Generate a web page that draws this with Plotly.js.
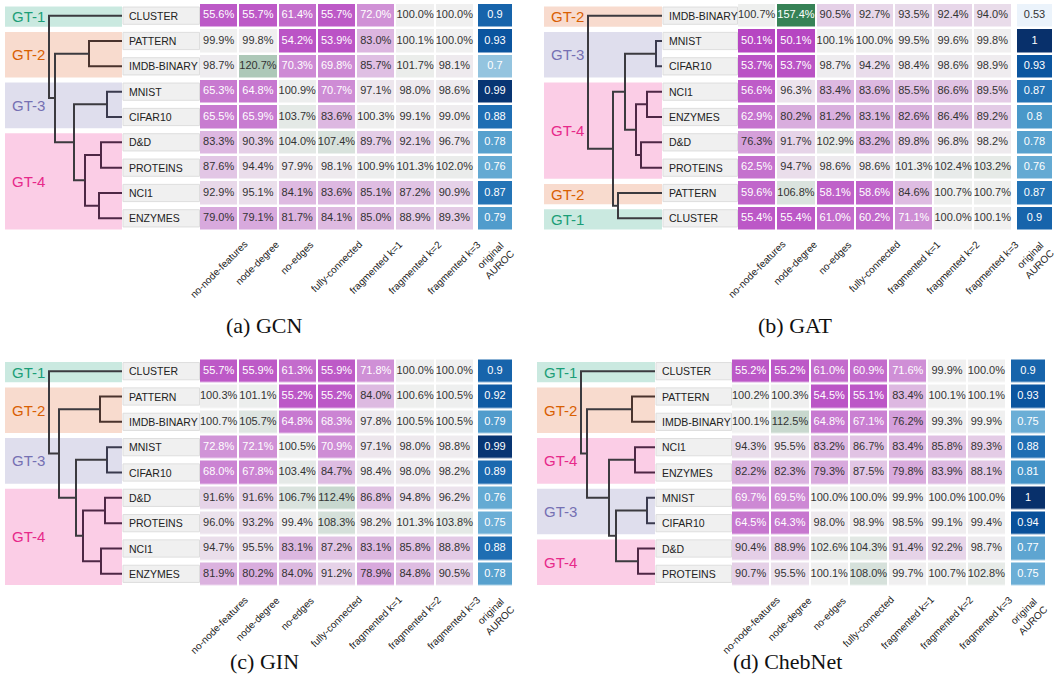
<!DOCTYPE html>
<html><head><meta charset="utf-8">
<script src="https://cdn.plot.ly/plotly-3.0.1.min.js"></script>
<style>html,body{margin:0;padding:0;background:#fff}#chart{width:1060px;height:692px}</style>
</head><body><div id="chart"></div>
<script>
// ---------------- DATA ----------------
const columns = ['no-node-features','node-degree','no-edges','fully-connected','fragmented k=1','fragmented k=2','fragmented k=3'];
const aurocLabel = 'original<br>AUROC';
const captions = ['(a) GCN','(b) GAT','(c) GIN','(d) ChebNet'];

const gcnRows = ['CLUSTER','PATTERN','IMDB-BINARY','MNIST','CIFAR10','D&D','PROTEINS','NCI1','ENZYMES'];
const gcnGroups = ['GT-1','GT-2','GT-2','GT-3','GT-3','GT-4','GT-4','GT-4','GT-4'];
const gcnValues = [
  [55.6,55.7,61.4,55.7,72.0,100.0,100.0],
  [99.9,99.8,54.2,53.9,83.0,100.1,100.0],
  [98.7,120.7,70.3,69.8,85.7,101.7,98.1],
  [65.3,64.8,100.9,70.7,97.1,98.0,98.6],
  [65.5,65.9,103.7,83.6,100.3,99.1,99.0],
  [83.3,90.3,104.0,107.4,89.7,92.1,96.7],
  [87.6,94.4,97.9,98.1,100.9,101.3,102.0],
  [92.9,95.1,84.1,83.6,85.1,87.2,90.9],
  [79.0,79.1,81.7,84.1,85.0,88.9,89.3]
];
const gcnAuroc = [0.9,0.93,0.7,0.99,0.88,0.78,0.76,0.87,0.79];
const gcnLinkage = [[3,4,15],[5,6,21],[7,8,23],[1,2,33],[10,11,37],[9,13,48],[12,14,67],[0,15,73]];

const gatRows = ['IMDB-BINARY','MNIST','CIFAR10','NCI1','ENZYMES','D&D','PROTEINS','PATTERN','CLUSTER'];
const gatGroups = ['GT-2','GT-3','GT-3','GT-4','GT-4','GT-4','GT-4','GT-2','GT-1'];
const gatValues = [
  [100.7,157.4,90.5,92.7,93.5,92.4,94.0],
  [50.1,50.1,100.1,100.0,99.5,99.6,99.8],
  [53.7,53.7,98.7,94.2,98.4,98.6,98.9],
  [56.6,96.3,83.4,83.6,85.5,86.6,89.5],
  [62.9,80.2,81.2,83.1,82.6,86.4,89.2],
  [76.3,91.7,102.9,83.2,89.8,96.8,98.2],
  [62.5,94.7,98.6,98.6,101.3,102.4,103.2],
  [59.6,106.8,58.1,58.6,84.6,100.7,100.7],
  [55.4,55.4,61.0,60.2,71.1,100.0,100.1]
];
const gatAuroc = [0.53,1,0.93,0.87,0.8,0.78,0.76,0.87,0.9];
const gatLinkage = [[1,2,6],[3,4,15],[5,6,21],[10,11,26],[9,12,37],[7,8,44],[13,14,49],[0,15,74]];

const ginRows = ['CLUSTER','PATTERN','IMDB-BINARY','MNIST','CIFAR10','D&D','PROTEINS','NCI1','ENZYMES'];
const ginGroups = ['GT-1','GT-2','GT-2','GT-3','GT-3','GT-4','GT-4','GT-4','GT-4'];
const ginValues = [
  [55.7,55.9,61.3,55.9,71.8,100.0,100.0],
  [100.3,101.1,55.2,55.2,84.0,100.6,100.5],
  [100.7,105.7,64.8,68.3,97.8,100.5,100.5],
  [72.8,72.1,100.5,70.9,97.1,98.0,98.8],
  [68.0,67.8,103.4,84.7,98.4,98.0,98.2],
  [91.6,91.6,106.7,112.4,86.8,94.8,96.2],
  [96.0,93.2,99.4,108.3,98.2,101.3,103.8],
  [94.7,95.5,83.1,87.2,83.1,85.8,88.8],
  [81.9,80.2,84.0,91.2,78.9,84.8,90.5]
];
const ginAuroc = [0.9,0.92,0.79,0.99,0.89,0.76,0.75,0.88,0.78];
const ginLinkage = [[3,4,15],[5,6,17],[7,8,21],[1,2,22],[10,11,39],[9,13,46],[12,14,63],[0,15,73]];

const chebRows = ['CLUSTER','PATTERN','IMDB-BINARY','NCI1','ENZYMES','MNIST','CIFAR10','D&D','PROTEINS'];
const chebGroups = ['GT-1','GT-2','GT-2','GT-4','GT-4','GT-3','GT-3','GT-4','GT-4'];
const chebValues = [
  [55.2,55.2,61.0,60.9,71.6,99.9,100.0],
  [100.2,100.3,54.5,55.1,83.4,100.1,100.1],
  [100.1,112.5,64.8,67.1,76.2,99.3,99.9],
  [94.3,95.5,83.2,86.7,83.4,85.8,89.3],
  [82.2,82.3,79.3,87.5,79.8,83.9,88.1],
  [69.7,69.5,100.0,100.0,99.9,100.0,100.0],
  [64.5,64.3,98.0,98.9,98.5,99.1,99.4],
  [90.4,88.9,102.6,104.3,91.4,92.2,98.7],
  [90.7,95.5,100.1,108.0,99.7,100.7,102.8]
];
const chebAuroc = [0.9,0.93,0.75,0.88,0.81,1,0.94,0.77,0.75];
const chebLinkage = [[5,6,8],[7,8,17],[3,4,20],[1,2,23],[9,10,39],[11,13,46],[12,14,68],[0,15,74]];

// ---------------- STYLE / LAYOUT ----------------
const W = 1060, H = 692;
const groupColor = {'GT-1':'#1b9e77','GT-2':'#d95f02','GT-3':'#7570b3','GT-4':'#e7298a'};
const groupFill = {'GT-1':'rgba(27,158,119,0.23)','GT-2':'rgba(229,110,60,0.25)','GT-3':'rgba(117,112,179,0.23)','GT-4':'rgba(240,60,160,0.26)'};
const groupLine = {'GT-1':'#2f3d38','GT-2':'#4a332d','GT-3':'#3a3a4e','GT-4':'#4d2745'};
const mixedLine = '#3b3a3f';
const heatScale = [[0,'#b646c2'],[50/110,'#f0f0f0'],[1,'#2e7d4f']];
const blues = [[0,'#f7fbff'],[0.125,'#deebf7'],[0.25,'#c6dbef'],[0.375,'#9ecae1'],[0.5,'#6baed6'],[0.625,'#4292c6'],[0.75,'#2171b5'],[0.875,'#08519c'],[1,'#08306b']];
const SANS = 'Liberation Sans, Arial, sans-serif';

const panels = [
  {rows:gcnRows, groups:gcnGroups, values:gcnValues, auroc:gcnAuroc, link:gcnLinkage, caption:captions[0],
   g:{top:3,bottom:231,boxL:5,leafEnd:122,labL:123,heatL:199,heatR:474,aurL:477,aurR:513,capX:264,capY:325}},
  {rows:gatRows, groups:gatGroups, values:gatValues, auroc:gatAuroc, link:gatLinkage, caption:captions[1],
   g:{top:3,bottom:231,boxL:544,leafEnd:662,labL:663,heatL:737,heatR:1012,aurL:1016,aurR:1053,capX:795,capY:325}},
  {rows:ginRows, groups:ginGroups, values:ginValues, auroc:ginAuroc, link:ginLinkage, caption:captions[2],
   g:{top:358.5,bottom:586.5,boxL:5,leafEnd:122,labL:123,heatL:199,heatR:474,aurL:477,aurR:513,capX:264,capY:661}},
  {rows:chebRows, groups:chebGroups, values:chebValues, auroc:chebAuroc, link:chebLinkage, caption:captions[3],
   g:{top:358.5,bottom:586.5,boxL:537,leafEnd:655,labL:656,heatL:731,heatR:1006,aurL:1010,aurR:1046,capX:788,capY:661}}
];

const px = v => v / W;
const py = v => 1 - v / H;

const traces = [], shapes = [], annotations = [];
const layout = {
  width: W, height: H, margin:{l:0,r:0,t:0,b:0},
  paper_bgcolor:'#fff', plot_bgcolor:'rgba(0,0,0,0)', showlegend:false, hovermode:false,
  font:{family:SANS, color:'#222'}
};
const hiddenAxis = {visible:false, showgrid:false, zeroline:false, fixedrange:true};

panels.forEach((p, pi) => {
  const g = p.g;
  const n = p.rows.length;
  const xd = 3*pi + 1, xh = 3*pi + 2, xa = 3*pi + 3, yi = pi + 1;
  const xn = k => k === 1 ? 'x' : 'x' + k;
  const yn = k => k === 1 ? 'y' : 'y' + k;
  const an = k => k === 1 ? 'xaxis' : 'xaxis' + k;
  const ayn = k => k === 1 ? 'yaxis' : 'yaxis' + k;
  const dW = g.leafEnd - g.boxL;
  layout[an(xd)] = Object.assign({}, hiddenAxis, {domain:[px(g.boxL), px(g.leafEnd)], range:[dW, 0], anchor:yn(yi)});
  layout[an(xh)] = Object.assign({}, hiddenAxis, {domain:[px(g.heatL), px(g.heatR)], range:[-0.5, 6.5], anchor:yn(yi)});
  layout[an(xa)] = Object.assign({}, hiddenAxis, {domain:[px(g.aurL), px(g.aurR)], range:[-0.5, 0.5], anchor:yn(yi)});
  layout[ayn(yi)] = Object.assign({}, hiddenAxis, {domain:[py(g.bottom), py(g.top)], range:[n - 0.5, -0.5], anchor:xn(xh)});

  const colIdx = columns.map((c, i) => i);
  const rowIdx = p.rows.map((r, i) => i);

  // heatmap
  traces.push({type:'heatmap', x:colIdx, y:rowIdx, z:p.values, xaxis:xn(xh), yaxis:yn(yi),
    colorscale:heatScale, zmin:50, zmax:160, showscale:false, xgap:2, ygap:2.5, hoverinfo:'skip'});
  const tx = [], ty = [], tt = [], tc = [];
  p.values.forEach((row, r) => row.forEach((v, c) => {
    tx.push(c); ty.push(r); tt.push(v.toFixed(1) + '%');
    tc.push((v < 75 || v > 130) ? '#ffffff' : '#333333');
  }));
  traces.push({type:'scatter', mode:'text', x:tx, y:ty, text:tt, xaxis:xn(xh), yaxis:yn(yi),
    textfont:{family:SANS, size:11, color:tc}, cliponaxis:false, hoverinfo:'skip'});

  // auroc column
  traces.push({type:'heatmap', x:[0], y:rowIdx, z:p.auroc.map(v => [v]), xaxis:xn(xa), yaxis:yn(yi),
    colorscale:blues, zmin:0.5, zmax:1.0, showscale:false, xgap:2, ygap:2.5, hoverinfo:'skip'});
  traces.push({type:'scatter', mode:'text', x:p.auroc.map(() => 0), y:rowIdx, text:p.auroc.map(v => String(v)),
    xaxis:xn(xa), yaxis:yn(yi), textfont:{family:SANS, size:11, color:p.auroc.map(v => v < 0.6 ? '#333333' : '#ffffff')},
    cliponaxis:false, hoverinfo:'skip'});

  // dendrogram
  const nodes = {};
  rowIdx.forEach(i => { nodes[i] = {h:0, y:i, leaves:[i]}; });
  p.link.forEach((l, k) => {
    const a = nodes[l[0]], b = nodes[l[1]];
    const leaves = a.leaves.concat(b.leaves);
    nodes[n + k] = {h:l[2], y:(a.y + b.y) / 2, leaves:leaves};
    const gs = new Set(leaves.map(i => p.groups[i]));
    const col = gs.size === 1 ? groupLine[[...gs][0]] : mixedLine;
    traces.push({type:'scatter', mode:'lines', x:[a.h, l[2], l[2], b.h], y:[a.y, a.y, b.y, b.y],
      xaxis:xn(xd), yaxis:yn(yi), line:{color:col, width:2}, cliponaxis:false, hoverinfo:'skip'});
  });

  // GT group boxes (runs of consecutive rows)
  let s = 0;
  for (let i = 1; i <= n; i++) {
    if (i === n || p.groups[i] !== p.groups[s]) {
      const gname = p.groups[s];
      shapes.push({type:'rect', layer:'below', xref:xn(xd), yref:yn(yi), x0:dW, x1:0,
        y0:s - 0.36, y1:i - 1 + 0.44, fillcolor:groupFill[gname], line:{width:0}});
      annotations.push({xref:'paper', yref:yn(yi), x:px(g.boxL + 5), y:(s + i - 1) / 2 + 0.04, xanchor:'left', yanchor:'middle',
        text:gname, showarrow:false, font:{family:SANS, size:15, color:groupColor[gname]}});
      s = i;
    }
  }

  // row label boxes and text
  p.rows.forEach((r, i) => {
    shapes.push({type:'rect', layer:'below', xref:'paper', yref:yn(yi), x0:px(g.labL), x1:px(g.heatL + 0.5),
      y0:i - 0.34, y1:i + 0.34, fillcolor:'#f0f0f0', line:{color:'#dedede', width:1}});
    annotations.push({xref:'paper', yref:yn(yi), x:px(g.labL + 4), y:i, xanchor:'left', yanchor:'middle',
      text:r, showarrow:false, font:{family:SANS, size:10.5, color:'#222'}});
  });

  // rotated column labels
  columns.forEach((c, i) => {
    annotations.push({xref:xn(xh), yref:'paper', x:i, y:py(g.bottom + 5), xanchor:'center', yanchor:'top',
      text:c, textangle:-45, showarrow:false, font:{family:SANS, size:10, color:'#222'}});
  });
  annotations.push({xref:xn(xa), yref:'paper', x:0, y:py(g.bottom + 5), xanchor:'center', yanchor:'top',
    text:aurocLabel, textangle:-45, showarrow:false, align:'center', font:{family:SANS, size:10, color:'#222'}});

  // caption
  annotations.push({xref:'paper', yref:'paper', x:px(g.capX), y:py(g.capY), xanchor:'center', yanchor:'middle',
    text:p.caption, showarrow:false, font:{family:'Liberation Serif, Times New Roman, serif', size:22, color:'#111'}});
});

layout.shapes = shapes;
layout.annotations = annotations;
Plotly.newPlot('chart', traces, layout, {staticPlot:true, displayModeBar:false});
</script></body></html>
